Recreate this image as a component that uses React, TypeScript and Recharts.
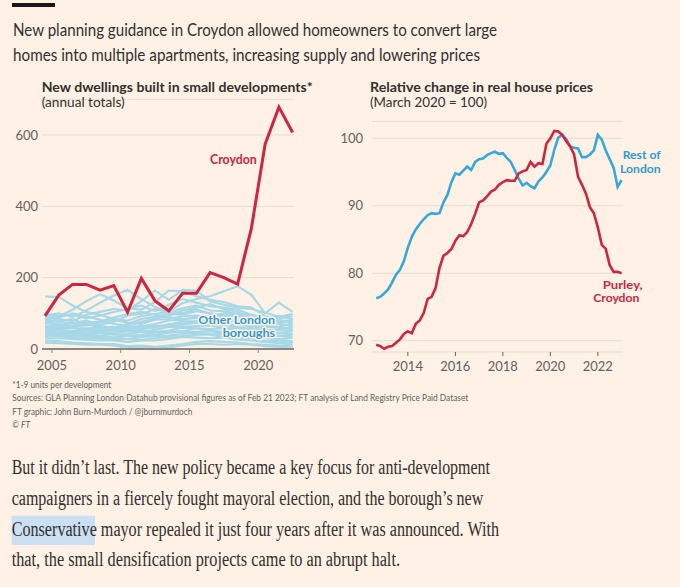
import React from 'react';
import { LineChart, Line, XAxis, YAxis, CartesianGrid } from 'recharts';

const BG = '#fff1e5';
const INK = '#33302e';
const MUTED = '#66605c';
const GRID = '#e8dbcf';
const AXIS = '#8f8780';
const RED = '#cf2640';
const PALE_BLUE = '#a6d8e8';
const BLUE = '#36a8dc';
const LABEL_BLUE = '#2f9bd3';
const SANS = "Lato, 'Noto Sans', sans-serif";
const SERIF = "'Liberation Serif', 'DejaVu Serif', serif";

// --- left chart: new dwellings in small developments, by financial year (start year)
const FIN_YEARS = [2004, 2005, 2006, 2007, 2008, 2009, 2010, 2011, 2012, 2013, 2014, 2015, 2016, 2017, 2018, 2019, 2020, 2021, 2022];
const CROYDON_DWELLINGS = [93, 151, 181, 181, 165, 178, 103, 198, 135, 107, 156, 156, 214, 200, 182, 338, 574, 678, 607];
const OTHER_BOROUGHS = [
  [147, 146, 122, 104, 96, 84, 80, 92, 98, 104, 100, 112, 98, 90, 92, 82, 78, 70, 66],
  [98, 92, 110, 134, 154, 136, 114, 110, 132, 164, 162, 148, 138, 132, 120, 116, 92, 86, 92],
  [94, 100, 90, 108, 130, 150, 166, 140, 118, 106, 128, 140, 148, 162, 176, 152, 100, 130, 104],
  [90, 84, 78, 96, 104, 112, 108, 134, 164, 138, 166, 164, 134, 124, 116, 112, 102, 90, 98],
  [86, 92, 96, 86, 94, 104, 112, 122, 106, 124, 140, 130, 120, 116, 110, 96, 80, 92, 84],
  [84, 76, 72, 80, 68, 76, 94, 98, 112, 102, 114, 122, 108, 106, 98, 96, 86, 76, 82],
  [80, 78, 84, 68, 64, 60, 70, 84, 90, 98, 96, 106, 100, 94, 94, 84, 70, 82, 74],
  [76, 70, 64, 66, 74, 82, 74, 70, 82, 84, 92, 94, 90, 90, 80, 80, 66, 62, 72],
  [74, 66, 72, 74, 58, 58, 62, 64, 70, 80, 82, 90, 84, 80, 78, 68, 62, 60, 56],
  [70, 88, 100, 92, 82, 70, 66, 76, 86, 92, 108, 116, 126, 112, 104, 90, 76, 70, 64],
  [66, 64, 58, 58, 60, 62, 54, 62, 64, 68, 78, 78, 80, 72, 66, 66, 54, 52, 52],
  [62, 58, 58, 54, 50, 52, 50, 54, 64, 64, 68, 74, 68, 68, 60, 56, 52, 44, 50],
  [60, 54, 50, 52, 46, 44, 50, 48, 54, 62, 62, 64, 66, 58, 58, 52, 44, 44, 42],
  [58, 62, 66, 72, 78, 88, 98, 104, 96, 88, 84, 86, 92, 100, 96, 88, 78, 74, 80],
  [54, 52, 46, 44, 46, 40, 42, 48, 48, 52, 60, 58, 56, 58, 50, 50, 40, 36, 40],
  [50, 46, 48, 40, 38, 42, 36, 40, 46, 48, 50, 58, 52, 48, 50, 42, 38, 38, 32],
  [46, 44, 40, 38, 36, 32, 38, 36, 40, 46, 48, 48, 50, 44, 40, 42, 32, 28, 32],
  [42, 38, 36, 34, 30, 32, 28, 34, 36, 38, 42, 46, 42, 42, 38, 32, 30, 26, 22],
  [36, 40, 44, 50, 56, 52, 58, 56, 60, 70, 72, 76, 72, 66, 70, 60, 48, 56, 60],
  [38, 36, 32, 28, 30, 26, 28, 26, 30, 34, 36, 40, 40, 34, 32, 30, 22, 22, 20],
  [30, 30, 28, 26, 24, 24, 20, 24, 24, 28, 34, 32, 30, 32, 26, 24, 20, 16, 18],
  [24, 22, 18, 16, 14, 14, 8, 10, 6, 10, 14, 20, 22, 20, 18, 14, 12, 10, 12],
  [18, 16, 14, 12, 12, 10, 3, 6, 1, 4, 10, 14, 14, 12, 14, 12, 8, 6, 5],
];
const DWELLING_TICKS = [0, 200, 400, 600];
const LEFT_YEAR_TICKS = [2005, 2010, 2015, 2020];

// --- right chart: real house prices, March 2020 = 100 (two-monthly readings)
const PRICE_MONTHS = [
  '2012-09', '2012-11', '2013-01', '2013-03', '2013-05', '2013-07', '2013-09', '2013-11',
  '2014-01', '2014-03', '2014-05', '2014-07', '2014-09', '2014-11',
  '2015-01', '2015-03', '2015-05', '2015-07', '2015-09', '2015-11',
  '2016-01', '2016-03', '2016-05', '2016-07', '2016-09', '2016-11',
  '2017-01', '2017-03', '2017-05', '2017-07', '2017-09', '2017-11',
  '2018-01', '2018-03', '2018-05', '2018-07', '2018-09', '2018-11',
  '2019-01', '2019-03', '2019-05', '2019-07', '2019-09', '2019-11',
  '2020-01', '2020-03', '2020-05', '2020-07', '2020-09', '2020-11',
  '2021-01', '2021-03', '2021-05', '2021-07', '2021-09', '2021-11',
  '2022-01', '2022-03', '2022-05', '2022-07', '2022-09', '2022-11',
  '2023-01',
];
const PURLEY_CROYDON = [
  69.4, 69.2, 68.8, 69.1, 69.2, 69.7, 70.2, 71.0,
  71.4, 71.1, 72.5, 73.0, 74.1, 76.2,
  76.5, 77.8, 80.8, 82.6, 83.0, 83.6,
  84.8, 85.6, 85.5, 86.1, 87.3, 88.8,
  90.5, 90.8, 91.4, 92.1, 92.4, 93.1,
  93.5, 93.8, 93.7, 93.7, 94.8, 95.1,
  95.3, 96.5, 95.8, 96.3, 96.2, 99.2,
  100.0, 101.1, 101.0, 100.5, 99.6, 98.8,
  97.6, 94.3, 93.1, 91.8, 89.8, 88.9,
  86.8, 84.2, 83.6, 81.2, 80.2, 80.2,
  80.0,
];
const REST_OF_LONDON = [
  76.3, 76.5, 77.0, 77.6, 78.6, 79.8, 80.5, 81.8,
  83.8, 85.4, 86.5, 87.3, 88.0, 88.6,
  88.9, 88.8, 88.9, 90.5, 91.6, 93.5,
  94.8, 94.6, 95.2, 95.8, 95.3, 96.5,
  96.9, 97.0, 97.5, 97.8, 98.0, 97.7,
  97.8, 97.1, 96.5, 95.3, 94.0, 93.0,
  93.4, 92.9, 92.6, 93.6, 94.2, 95.0,
  96.0, 98.3, 100.1, 100.5, 99.9, 98.8,
  98.6, 98.5, 97.2, 97.2, 97.6, 98.2,
  100.5, 99.8, 98.2, 96.9, 95.6, 92.8,
  93.8,
];
const PRICE_TICKS = [70, 80, 90, 100];
const RIGHT_YEAR_TICKS = [2014, 2016, 2018, 2020, 2022];

// financial years are drawn at their mid point
const dwellingRows = FIN_YEARS.map((y, i) => {
  const row: Record<string, number> = { x: y + 0.5, croydon: CROYDON_DWELLINGS[i] };
  OTHER_BOROUGHS.forEach((s, j) => {
    row['b' + j] = s[i];
  });
  return row;
});

const priceRows = PRICE_MONTHS.map((m, i) => {
  const [yy, mm] = m.split('-').map(Number);
  return { x: yy + (mm - 1) / 12, purley: PURLEY_CROYDON[i], london: REST_OF_LONDON[i] };
});

const tickStyle = { fill: MUTED, fontSize: 13, fontFamily: SANS };

interface TextProps {
  x: number;
  y: number;
  w: number;
  size: number;
  weight?: number;
  italic?: boolean;
  color?: string;
  family?: string;
  halo?: boolean;
  children: React.ReactNode;
}

// text squeezed to the width it has in the picture
function T({ x, y, w, size, weight = 400, italic = false, color = INK, family = SANS, halo = false, children }: TextProps) {
  return (
    <text
      x={x}
      y={y}
      textLength={w}
      lengthAdjust="spacingAndGlyphs"
      fontSize={size}
      fontWeight={weight}
      fontStyle={italic ? 'italic' : 'normal'}
      fontFamily={family}
      fill={color}
      stroke={halo ? BG : 'none'}
      strokeWidth={halo ? 3 : 0}
      strokeLinejoin="round"
      paintOrder="stroke"
    >
      {children}
    </text>
  );
}

function DwellingsChart() {
  return (
    <LineChart width={310} height={380} data={dwellingRows} margin={{ top: 99.3, right: 16, bottom: 1, left: 0 }}>
      <CartesianGrid vertical={false} stroke={GRID} />
      <XAxis
        dataKey="x"
        type="number"
        domain={[2004.28, 2022.6]}
        allowDataOverflow
        ticks={LEFT_YEAR_TICKS}
        height={30}
        tickSize={4}
        tickMargin={8}
        axisLine={{ stroke: AXIS, strokeWidth: 2 }}
        tickLine={{ stroke: AXIS }}
        tick={tickStyle}
      />
      <YAxis
        type="number"
        domain={[0, 700]}
        allowDataOverflow
        ticks={DWELLING_TICKS}
        width={42}
        axisLine={false}
        tickLine={false}
        tickSize={0}
        tickMargin={4}
        tick={tickStyle}
      />
      {OTHER_BOROUGHS.map((_, j) => (
        <Line
          key={j}
          type="linear"
          dataKey={'b' + j}
          stroke={PALE_BLUE}
          strokeWidth={2.1}
          dot={false}
          isAnimationActive={false}
        />
      ))}
      <Line type="linear" dataKey="croydon" stroke={RED} strokeWidth={3} dot={false} isAnimationActive={false} />
    </LineChart>
  );
}

function PricesChart() {
  return (
    <LineChart width={300} height={390} data={priceRows} margin={{ top: 121.4, right: 7, bottom: 8, left: 0 }}>
      <CartesianGrid vertical={false} stroke={GRID} />
      <XAxis
        dataKey="x"
        type="number"
        domain={[2012.49, 2023.06]}
        allowDataOverflow
        ticks={RIGHT_YEAR_TICKS}
        height={30}
        tickSize={4}
        tickMargin={6}
        axisLine={false}
        tickLine={{ stroke: MUTED }}
        tick={tickStyle}
      />
      <YAxis
        type="number"
        domain={[68.33, 102.5]}
        allowDataOverflow
        ticks={PRICE_TICKS}
        width={42}
        axisLine={false}
        tickLine={false}
        tickSize={0}
        tickMargin={9}
        tick={tickStyle}
      />
      <Line type="linear" dataKey="london" stroke={BLUE} strokeWidth={2.6} dot={false} isAnimationActive={false} />
      <Line type="linear" dataKey="purley" stroke={RED} strokeWidth={2.6} dot={false} isAnimationActive={false} />
    </LineChart>
  );
}

export default function App() {
  return (
    <div style={{ position: 'relative', width: 680, height: 587, background: BG, overflow: 'hidden' }}>
      <style>{`html,body{margin:0;padding:0;background:${BG}}`}</style>
      <div style={{ position: 'absolute', left: 0, top: 0 }}>
        <DwellingsChart />
      </div>
      <div style={{ position: 'absolute', left: 330, top: 0 }}>
        <PricesChart />
      </div>
      <svg width={680} height={587} style={{ position: 'absolute', left: 0, top: 0, pointerEvents: 'none' }}>
        <rect x={12} y={3} width={43} height={4} fill="#1a1817" />
        <T x={13} y={36} w={484} size={18}>New planning guidance in Croydon allowed homeowners to convert large</T>
        <T x={13} y={61} w={467} size={18}>homes into multiple apartments, increasing supply and lowering prices</T>

        <T x={41.7} y={91.6} w={271} size={13} weight={700}>New dwellings built in small developments*</T>
        <T x={41.7} y={106.5} w={83} size={13}>(annual totals)</T>
        <T x={370} y={91.6} w={223} size={13} weight={700}>Relative change in real house prices</T>
        <T x={370} y={106.5} w={117} size={13}>(March 2020 = 100)</T>

        <T x={210} y={164.3} w={46.7} size={13} weight={700} color={RED}>Croydon</T>
        <T x={198.3} y={324.3} w={76.7} size={11.5} weight={700} color={LABEL_BLUE} halo>Other London</T>
        <T x={222.7} y={336.8} w={52.3} size={11.5} weight={700} color={LABEL_BLUE} halo>boroughs</T>
        <T x={622.7} y={159.3} w={38} size={12} weight={700} color={LABEL_BLUE}>Rest of</T>
        <T x={620} y={173.3} w={40.7} size={12} weight={700} color={LABEL_BLUE}>London</T>
        <T x={602.7} y={288.7} w={40} size={11.5} weight={700} color={RED}>Purley,</T>
        <T x={593.3} y={302} w={46} size={11.5} weight={700} color={RED}>Croydon</T>

        <T x={12.3} y={388} w={99} size={10} color={MUTED}>*1-9 units per development</T>
        <T x={12.3} y={401.3} w={456} size={10} color={MUTED}>
          Sources: GLA Planning London Datahub provisional figures as of Feb 21 2023; FT analysis of Land Registry Price Paid Dataset
        </T>
        <T x={12.3} y={414.6} w={180} size={10} color={MUTED}>FT graphic: John Burn-Murdoch / @jburnmurdoch</T>
        <T x={12.3} y={428} w={6.5} size={10} color={MUTED}>©</T>
        <T x={21} y={428} w={9} size={10} italic color={MUTED}>FT</T>

        <rect x={11.7} y={515.7} width={83.3} height={29.3} fill="#cce0f3" />
        <T x={11.7} y={474.3} w={478.3} size={20} family={SERIF}>
          But it didn’t last. The new policy became a key focus for anti-development
        </T>
        <T x={11.7} y={504.8} w={471.6} size={20} family={SERIF}>
          campaigners in a fiercely fought mayoral election, and the borough’s new
        </T>
        <T x={11.7} y={535.5} w={487.3} size={20} family={SERIF}>
          Conservative mayor repealed it just four years after it was announced. With
        </T>
        <T x={11.7} y={565.7} w={388.3} size={20} family={SERIF}>
          that, the small densification projects came to an abrupt halt.
        </T>
      </svg>
    </div>
  );
}
